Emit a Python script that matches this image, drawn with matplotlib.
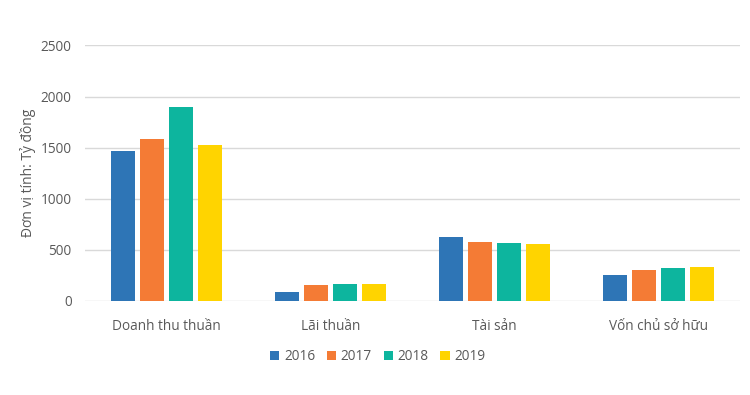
import numpy as np
import matplotlib.pyplot as plt

plt.rcParams['font.family'] = ['Open Sans', 'DejaVu Sans']

# Dữ liệu
categories = ['Doanh thu thuần', 'Lãi thuần', 'Tài sản', 'Vốn chủ sở hữu']
years = ['2016', '2017', '2018', '2019']
v2016 = [1470, 90, 625, 250]
v2017 = [1580, 155, 575, 305]
v2018 = [1900, 165, 570, 325]
v2019 = [1530, 165, 560, 330]
values = [v2016, v2017, v2018, v2019]
colors = ['#2E75B6', '#F47B35', '#0DB59E', '#FFD400']

fig = plt.figure(figsize=(7.5, 3.95), dpi=100)
ax = fig.add_axes([0.113, 0.238, 0.874, 0.647])

x = np.arange(len(categories))
step = 0.177
width = 0.144
for i, (yr, vals, c) in enumerate(zip(years, values, colors)):
    ax.bar(x + (i - 1.5) * step, vals, width, color=c, label=yr, zorder=3)

ax.set_xlim(-0.5, 3.5)
ax.set_ylim(0, 2500)
ax.set_yticks(np.arange(0, 2501, 500))
ax.set_xticks(x)
ax.set_xticklabels(categories)
ax.grid(axis='y', color='#d9d9d9', linewidth=1, zorder=0)
for s in ax.spines.values():
    s.set_visible(False)
ax.tick_params(length=0, colors='#595959', labelsize=9.8)
ax.tick_params(axis='x', pad=13)
ax.tick_params(axis='y', pad=9.4)
ax.set_ylabel('Đơn vị tính: Tỷ đồng', color='#595959', fontsize=10, labelpad=3.5)

ax.legend(loc='upper center', bbox_to_anchor=(0.447, -0.14), ncol=4, frameon=False,
          fontsize=9.8, labelcolor='#595959', handlelength=0.68, handleheight=0.68,
          handletextpad=0.35, columnspacing=0.85)

fig.savefig('out.png', dpi=100)
